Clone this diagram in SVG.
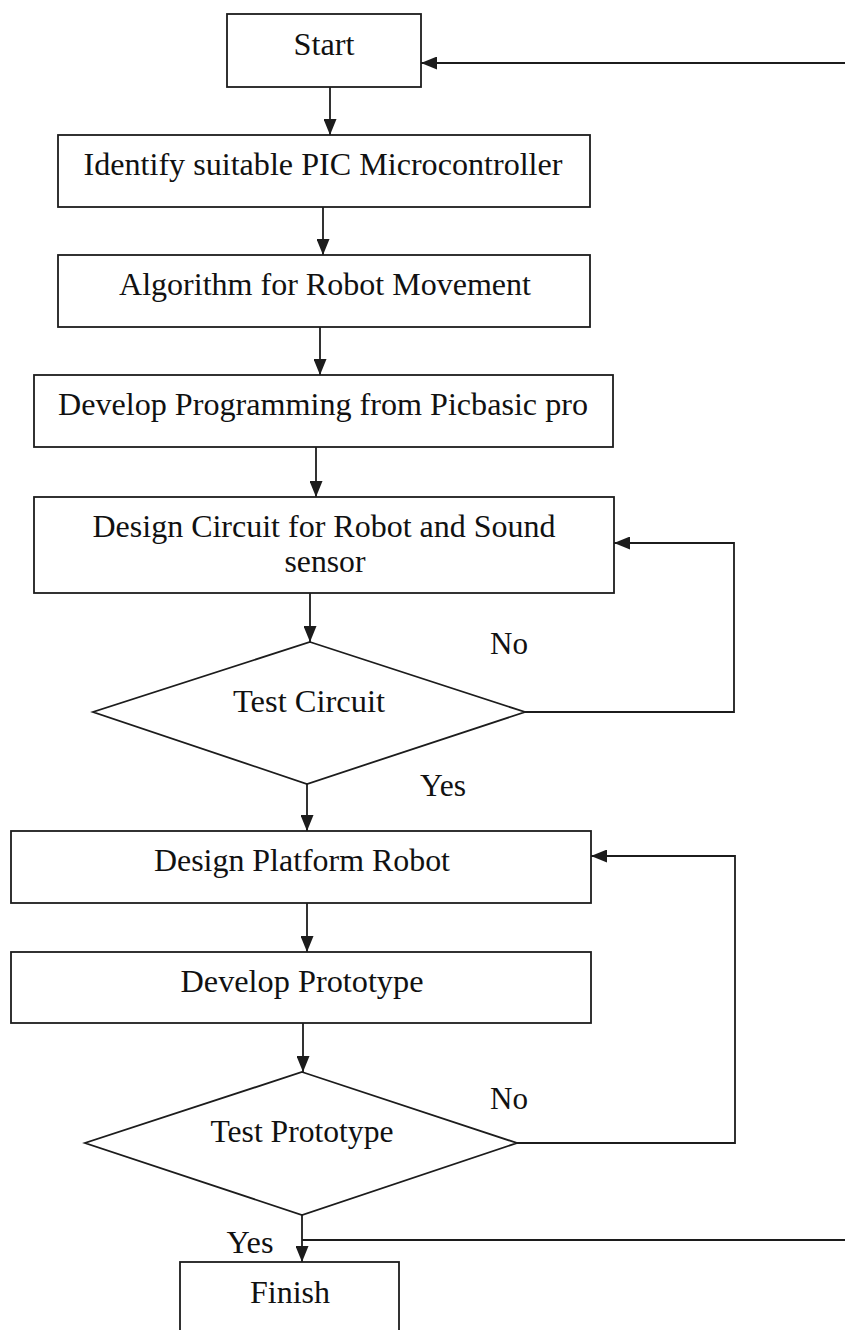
<svg xmlns="http://www.w3.org/2000/svg" width="845" height="1330" viewBox="0 0 845 1330">
<style>
.box{fill:#fff;stroke:#1c1c1c;stroke-width:1.8}
.ln{fill:none;stroke:#1c1c1c;stroke-width:1.8}
.t{font-family:"Liberation Serif","Times New Roman",serif;font-size:31px;fill:#111;text-anchor:middle}
</style>
<defs>
<marker id="ah" markerUnits="userSpaceOnUse" markerWidth="17" markerHeight="13" refX="16" refY="6.5" orient="auto">
<path d="M0,0 L16,6.5 L0,13 Z" fill="#1c1c1c"/>
</marker>
</defs>
<rect width="845" height="1330" fill="#fff"/>
<g id="connectors">
<line class="ln" x1="330" y1="87" x2="330" y2="135" marker-end="url(#ah)"/>
<line class="ln" x1="323" y1="207" x2="323" y2="255" marker-end="url(#ah)"/>
<line class="ln" x1="320" y1="327" x2="320" y2="375" marker-end="url(#ah)"/>
<line class="ln" x1="316" y1="447" x2="316" y2="497" marker-end="url(#ah)"/>
<line class="ln" x1="310" y1="593" x2="310" y2="642" marker-end="url(#ah)"/>
<polyline class="ln" points="525,712 734,712 734,543 614,543" marker-end="url(#ah)"/>
<line class="ln" x1="307" y1="784" x2="307" y2="831" marker-end="url(#ah)"/>
<line class="ln" x1="307" y1="903" x2="307" y2="952" marker-end="url(#ah)"/>
<line class="ln" x1="303" y1="1023" x2="303" y2="1072" marker-end="url(#ah)"/>
<polyline class="ln" points="517,1143 735,1143 735,856 591,856" marker-end="url(#ah)"/>
<line class="ln" x1="302" y1="1215" x2="302" y2="1262" marker-end="url(#ah)"/>
<polyline class="ln" points="302,1240 850,1240 850,63 421,63" marker-end="url(#ah)"/>
<text class="t" x="509" y="654" textLength="38" lengthAdjust="spacingAndGlyphs">No</text>
<text class="t" x="443" y="796" textLength="46" lengthAdjust="spacingAndGlyphs">Yes</text>
<text class="t" x="509" y="1109" textLength="38" lengthAdjust="spacingAndGlyphs">No</text>
<text class="t" x="250" y="1253" textLength="47" lengthAdjust="spacingAndGlyphs">Yes</text>
</g>
<g id="start">
<rect class="box" x="227" y="14" width="194" height="73"/>
<text class="t" x="324" y="55" textLength="61" lengthAdjust="spacingAndGlyphs">Start</text>
</g>
<g id="identify">
<rect class="box" x="58" y="135" width="532" height="72"/>
<text class="t" x="323" y="175" textLength="479" lengthAdjust="spacingAndGlyphs">Identify suitable PIC Microcontroller</text>
</g>
<g id="algorithm">
<rect class="box" x="58" y="255" width="532" height="72"/>
<text class="t" x="325" y="295" textLength="412" lengthAdjust="spacingAndGlyphs">Algorithm for Robot Movement</text>
</g>
<g id="programming">
<rect class="box" x="34" y="375" width="579" height="72"/>
<text class="t" x="323" y="415" textLength="530" lengthAdjust="spacingAndGlyphs">Develop Programming from Picbasic pro</text>
</g>
<g id="circuit">
<rect class="box" x="34" y="497" width="580" height="96"/>
<text class="t" x="324" y="537" textLength="463" lengthAdjust="spacingAndGlyphs">Design Circuit for Robot and Sound</text>
<text class="t" x="325" y="572" textLength="81" lengthAdjust="spacingAndGlyphs">sensor</text>
</g>
<g id="test-circuit">
<polygon class="box" points="310,642 525,712 307,784 93,712"/>
<text class="t" x="309" y="712" textLength="152" lengthAdjust="spacingAndGlyphs">Test Circuit</text>
</g>
<g id="platform">
<rect class="box" x="11" y="831" width="580" height="72"/>
<text class="t" x="302" y="871" textLength="296" lengthAdjust="spacingAndGlyphs">Design Platform Robot</text>
</g>
<g id="prototype">
<rect class="box" x="11" y="952" width="580" height="71"/>
<text class="t" x="302" y="992" textLength="243" lengthAdjust="spacingAndGlyphs">Develop Prototype</text>
</g>
<g id="test-prototype">
<polygon class="box" points="302,1072 517,1143 302,1215 85,1143"/>
<text class="t" x="302" y="1142" textLength="183" lengthAdjust="spacingAndGlyphs">Test Prototype</text>
</g>
<g id="finish">
<rect class="box" x="180" y="1262" width="219" height="90"/>
<text class="t" x="290" y="1303" textLength="80" lengthAdjust="spacingAndGlyphs">Finish</text>
</g>
</svg>
